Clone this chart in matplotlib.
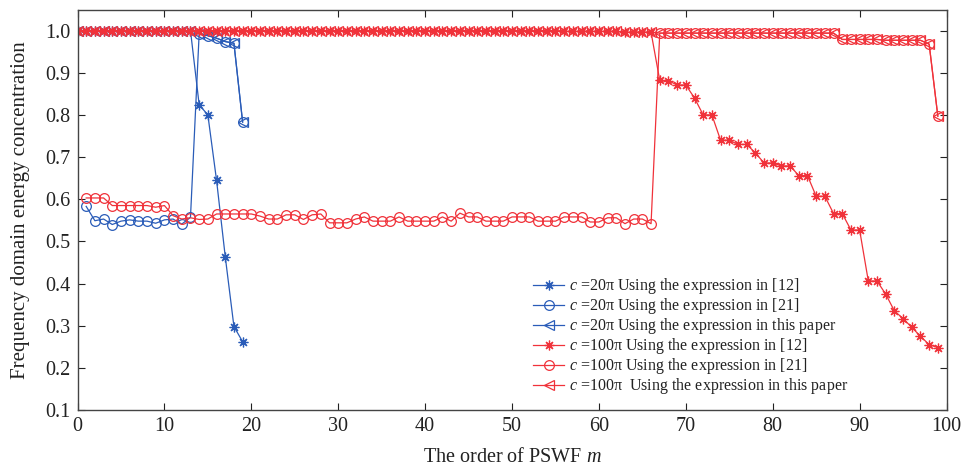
import numpy as np
import matplotlib
matplotlib.use("Agg")
import matplotlib.pyplot as plt

plt.rcParams['font.family'] = ['Liberation Serif', 'DejaVu Serif']
plt.rcParams['mathtext.fontset'] = 'custom'
plt.rcParams['mathtext.rm'] = 'Liberation Serif'
plt.rcParams['mathtext.it'] = 'Liberation Serif:italic'

blue = '#2a5cb8'
red = '#f0323a'

# c = 20*pi, orders 0..19 (the [21] curve starts at 1)
m20 = np.arange(0, 20)
m20_c = np.arange(1, 20)
b_star = [1.0, 1.0, 1.0, 1.0, 1.0, 1.0, 1.0, 1.0, 1.0, 1.0, 1.0, 1.0, 1.0, 1.0,
          0.824, 0.800, 0.645, 0.464, 0.298, 0.262]
b_circ = [0.583, 0.549, 0.553, 0.540, 0.548, 0.551, 0.548, 0.548, 0.543, 0.551,
          0.553, 0.541, 0.557, 0.993, 0.988, 0.982, 0.974, 0.970, 0.783]
b_tri = [1.0, 1.0, 1.0, 1.0, 1.0, 1.0, 1.0, 1.0, 1.0, 1.0, 1.0, 1.0, 1.0, 1.0,
         0.993, 0.988, 0.982, 0.974, 0.970, 0.783]

# c = 100*pi, orders 0..99 (the [21] curve starts at 1)
m100 = np.arange(0, 100)
m100_c = np.arange(1, 100)
r_star = [1.0, 1.0, 1.0, 1.0, 1.0, 1.0, 1.0, 1.0, 1.0, 1.0,
          1.0, 1.0, 1.0, 1.0, 1.0, 1.0, 1.0, 1.0, 1.0, 1.0,
          1.0, 1.0, 1.0, 1.0, 1.0, 1.0, 1.0, 1.0, 1.0, 1.0,
          1.0, 1.0, 1.0, 1.0, 1.0, 1.0, 1.0, 1.0, 1.0, 1.0,
          1.0, 1.0, 1.0, 1.0, 1.0, 1.0, 1.0, 1.0, 1.0, 1.0,
          1.0, 1.0, 1.0, 1.0, 1.0, 1.0, 0.998, 0.998, 0.998, 0.998,
          0.998, 0.998, 0.998, 0.996, 0.996, 0.996, 0.996, 0.882, 0.881, 0.871,
          0.871, 0.840, 0.800, 0.800, 0.740, 0.740, 0.730, 0.730, 0.710, 0.686,
          0.686, 0.679, 0.679, 0.656, 0.656, 0.607, 0.607, 0.566, 0.566, 0.527,
          0.527, 0.406, 0.406, 0.375, 0.335, 0.317, 0.296, 0.275, 0.255, 0.248]
r_circ = [0.603, 0.603, 0.603, 0.585, 0.585, 0.585, 0.585, 0.585, 0.581,
          0.585, 0.561, 0.553, 0.556, 0.552, 0.553, 0.565, 0.565, 0.565, 0.565,
          0.565, 0.560, 0.553, 0.553, 0.563, 0.563, 0.552, 0.563, 0.565, 0.544,
          0.544, 0.544, 0.553, 0.558, 0.548, 0.548, 0.548, 0.558, 0.548, 0.548,
          0.548, 0.548, 0.558, 0.548, 0.567, 0.558, 0.558, 0.548, 0.548, 0.548,
          0.558, 0.558, 0.558, 0.548, 0.548, 0.548, 0.558, 0.558, 0.558, 0.546,
          0.546, 0.556, 0.556, 0.542, 0.553, 0.553, 0.542, 0.994, 0.994, 0.994,
          0.994, 0.994, 0.994, 0.994, 0.994, 0.994, 0.994, 0.994, 0.994, 0.994,
          0.994, 0.994, 0.994, 0.994, 0.994, 0.994, 0.994, 0.994, 0.979, 0.979,
          0.979, 0.979, 0.979, 0.977, 0.977, 0.977, 0.977, 0.977, 0.968, 0.797]
r_tri = [1.0, 1.0, 1.0, 1.0, 1.0, 1.0, 1.0, 1.0, 1.0, 1.0,
         1.0, 1.0, 1.0, 1.0, 1.0, 1.0, 1.0, 1.0, 1.0, 1.0,
         1.0, 1.0, 1.0, 1.0, 1.0, 1.0, 1.0, 1.0, 1.0, 1.0,
         1.0, 1.0, 1.0, 1.0, 1.0, 1.0, 1.0, 1.0, 1.0, 1.0,
         1.0, 1.0, 1.0, 1.0, 1.0, 1.0, 1.0, 1.0, 1.0, 1.0,
         1.0, 1.0, 1.0, 1.0, 1.0, 1.0, 0.998, 0.998, 0.998, 0.998,
         0.998, 0.998, 0.998, 0.996, 0.996, 0.996, 0.996, 0.994, 0.994, 0.994,
         0.994, 0.994, 0.994, 0.994, 0.994, 0.994, 0.994, 0.994, 0.994, 0.994,
         0.994, 0.994, 0.994, 0.994, 0.994, 0.994, 0.994, 0.994, 0.979, 0.979,
         0.979, 0.979, 0.979, 0.977, 0.977, 0.977, 0.977, 0.977, 0.968, 0.797]

labels = [r"$c$ =20π Using the expression in [12]",
          r"$c$ =20π Using the expression in [21]",
          r"$c$ =20π Using the expression in this paper",
          r"$c$ =100π Using the expression in [12]",
          r"$c$ =100π Using the expression in [21]",
          r"$c$ =100π  Using the expression in this paper"]

fig = plt.figure(figsize=(9.7, 4.69), dpi=100)
ax = fig.add_axes([0.0799, 0.1258, 0.8959, 0.8539])

star = (8, 2, 0)
lw = 0.9
ax.plot(m20, b_star, color=blue, lw=lw, marker=star, ms=7, mew=0.9, label=labels[0])
ax.plot(m20_c, b_circ, color=blue, lw=lw, marker='o', ms=7, mfc='none', mew=0.9, label=labels[1])
ax.plot(m20, b_tri, color=blue, lw=lw, marker='<', ms=6.5, mfc='none', mew=0.9, label=labels[2])
ax.plot(m100, r_star, color=red, lw=lw, marker=star, ms=7, mew=0.9, label=labels[3])
ax.plot(m100_c, r_circ, color=red, lw=lw, marker='o', ms=7, mfc='none', mew=0.9, label=labels[4])
ax.plot(m100, r_tri, color=red, lw=lw, marker='<', ms=6.5, mfc='none', mew=0.9, label=labels[5])

ax.set_xlim(0, 100)
ax.set_ylim(0.1, 1.05)
ax.set_xticks(np.arange(0, 101, 10))
ax.set_yticks(np.arange(0.1, 1.01, 0.1))
ax.set_yticklabels(['%.1f' % v for v in np.arange(0.1, 1.01, 0.1)])
ax.tick_params(direction='in', top=True, right=True, length=5, width=0.8,
               labelsize=14.5, colors='#222222', pad=5)
for s in ax.spines.values():
    s.set_color('#444444')
    s.set_linewidth(1.0)

ax.set_xlabel(r"The order of PSWF $m$", fontsize=14.5, color='#222222', labelpad=9)
ax.set_ylabel("Frequency domain energy concentration", fontsize=15, color='#222222', labelpad=11)

ax.legend(loc='center left', bbox_to_anchor=(0.5155, 0.184), frameon=False,
          fontsize=11.5, handlelength=1.9, handletextpad=0.35, labelspacing=0.0,
          borderpad=0, labelcolor='#222222')

fig.savefig("out.png", dpi=100)
